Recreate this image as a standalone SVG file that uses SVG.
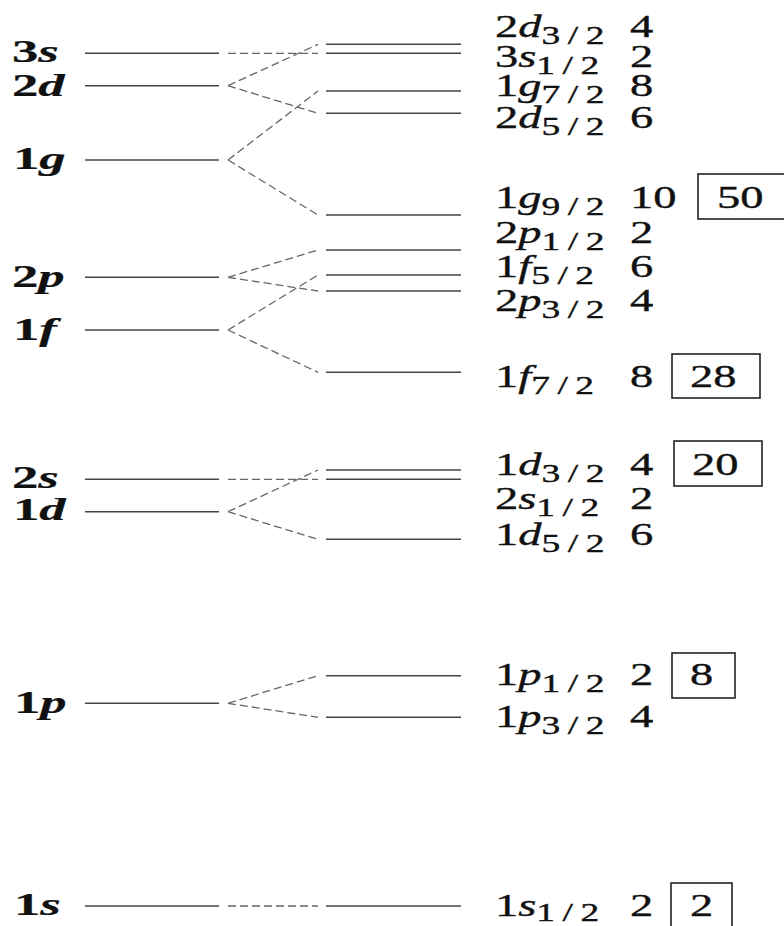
<svg xmlns="http://www.w3.org/2000/svg" width="784" height="926" viewBox="0 0 784 926">
<style>
.lv{stroke:#444;stroke-width:1.4;fill:none}
.cn{stroke:#666;stroke-width:1.3;fill:none;stroke-dasharray:8 4}
.t{font-family:'Liberation Serif','DejaVu Serif',serif;font-size:31px;fill:#111;stroke:#111;stroke-width:0.35}
.b{font-weight:bold;stroke-width:0.2}
.it{font-style:italic}
.sub{font-size:25px;letter-spacing:5px}
.box{fill:none;stroke:#222;stroke-width:1.6}
</style>
<rect width="784" height="926" fill="#fff"/>
<g id="connectors">
<path class="cn" d="M228,53.3L318,53.3"/>
<path class="cn" d="M228,85.7L318,44.3M228,85.7L318,113.3"/>
<path class="cn" d="M228,160L318,91M228,160L318,215"/>
<path class="cn" d="M228,277.3L318,250M228,277.3L318,291"/>
<path class="cn" d="M228,330L318,275M228,330L318,372.3"/>
<path class="cn" d="M228,479.3L318,479.3"/>
<path class="cn" d="M228,511.7L318,470M228,511.7L318,539.3"/>
<path class="cn" d="M228,703.3L318,675.7M228,703.3L318,717.3"/>
<path class="cn" d="M228,906L318,906"/>
</g>
<g class="t">
<g id="left-3s"><line class="lv" x1="85" y1="53.3" x2="219" y2="53.3"/><text class="b" transform="translate(12,62) scale(1.7,1)">3<tspan class="it">s</tspan></text></g>
<g id="left-2d"><line class="lv" x1="85" y1="85.7" x2="219" y2="85.7"/><text class="b" transform="translate(12,96) scale(1.7,1)">2<tspan class="it">d</tspan></text></g>
<g id="left-1g"><line class="lv" x1="85" y1="160" x2="219" y2="160"/><text class="b" transform="translate(13,169) scale(1.7,1)">1<tspan class="it">g</tspan></text></g>
<g id="left-2p"><line class="lv" x1="85" y1="277.3" x2="219" y2="277.3"/><text class="b" transform="translate(12,287) scale(1.7,1)">2<tspan class="it">p</tspan></text></g>
<g id="left-1f"><line class="lv" x1="85" y1="330" x2="219" y2="330"/><text class="b" transform="translate(13,340) scale(1.7,1)">1<tspan class="it">f</tspan></text></g>
<g id="left-2s"><line class="lv" x1="85" y1="479.3" x2="219" y2="479.3"/><text class="b" transform="translate(12,488) scale(1.7,1)">2<tspan class="it">s</tspan></text></g>
<g id="left-1d"><line class="lv" x1="85" y1="511.7" x2="219" y2="511.7"/><text class="b" transform="translate(13,520) scale(1.7,1)">1<tspan class="it">d</tspan></text></g>
<g id="left-1p"><line class="lv" x1="85" y1="703.3" x2="219" y2="703.3"/><text class="b" transform="translate(14,713) scale(1.7,1)">1<tspan class="it">p</tspan></text></g>
<g id="left-1s"><line class="lv" x1="85" y1="906" x2="219" y2="906"/><text class="b" transform="translate(14,915) scale(1.7,1)">1<tspan class="it">s</tspan></text></g>

<g id="r-2d32"><line class="lv" x1="326" y1="44.3" x2="461" y2="44.3"/><text transform="translate(495,37) scale(1.5,1)">2<tspan class="it">d</tspan><tspan class="sub" dy="7">3/2</tspan></text><text transform="translate(630,37) scale(1.5,1)">4</text></g>
<g id="r-3s12"><line class="lv" x1="326" y1="53.3" x2="461" y2="53.3"/><text transform="translate(495,67) scale(1.5,1)">3<tspan class="it">s</tspan><tspan class="sub" dy="7">1/2</tspan></text><text transform="translate(630,67) scale(1.5,1)">2</text></g>
<g id="r-1g72"><line class="lv" x1="326" y1="91" x2="461" y2="91"/><text transform="translate(495,96) scale(1.5,1)">1<tspan class="it">g</tspan><tspan class="sub" dy="7">7/2</tspan></text><text transform="translate(630,96) scale(1.5,1)">8</text></g>
<g id="r-2d52"><line class="lv" x1="326" y1="113.3" x2="461" y2="113.3"/><text transform="translate(495,128) scale(1.5,1)">2<tspan class="it">d</tspan><tspan class="sub" dy="7">5/2</tspan></text><text transform="translate(630,128) scale(1.5,1)">6</text></g>
<g id="r-1g92"><line class="lv" x1="326" y1="215" x2="461" y2="215"/><text transform="translate(495,208) scale(1.5,1)">1<tspan class="it">g</tspan><tspan class="sub" dy="7">9/2</tspan></text><text transform="translate(630,208) scale(1.5,1)">10</text><rect class="box" x="698" y="174" width="100" height="45"/><text transform="translate(717,208) scale(1.5,1)">50</text></g>
<g id="r-2p12"><line class="lv" x1="326" y1="250" x2="461" y2="250"/><text transform="translate(495,243) scale(1.5,1)">2<tspan class="it">p</tspan><tspan class="sub" dy="7">1/2</tspan></text><text transform="translate(630,243) scale(1.5,1)">2</text></g>
<g id="r-1f52"><line class="lv" x1="326" y1="275" x2="461" y2="275"/><text transform="translate(495,277) scale(1.5,1)">1<tspan class="it">f</tspan><tspan class="sub" dy="7">5/2</tspan></text><text transform="translate(630,277) scale(1.5,1)">6</text></g>
<g id="r-2p32"><line class="lv" x1="326" y1="291" x2="461" y2="291"/><text transform="translate(495,311) scale(1.5,1)">2<tspan class="it">p</tspan><tspan class="sub" dy="7">3/2</tspan></text><text transform="translate(630,311) scale(1.5,1)">4</text></g>
<g id="r-1f72"><line class="lv" x1="326" y1="372.3" x2="461" y2="372.3"/><text transform="translate(495,387) scale(1.5,1)">1<tspan class="it">f</tspan><tspan class="sub" dy="7">7/2</tspan></text><text transform="translate(630,387) scale(1.5,1)">8</text><rect class="box" x="672" y="354" width="88" height="44"/><text transform="translate(690,387) scale(1.5,1)">28</text></g>
<g id="r-1d32"><line class="lv" x1="326" y1="470" x2="461" y2="470"/><text transform="translate(495,475) scale(1.5,1)">1<tspan class="it">d</tspan><tspan class="sub" dy="7">3/2</tspan></text><text transform="translate(630,475) scale(1.5,1)">4</text><rect class="box" x="674" y="441" width="88" height="45"/><text transform="translate(692,475) scale(1.5,1)">20</text></g>
<g id="r-2s12"><line class="lv" x1="326" y1="479.3" x2="461" y2="479.3"/><text transform="translate(495,509) scale(1.5,1)">2<tspan class="it">s</tspan><tspan class="sub" dy="7">1/2</tspan></text><text transform="translate(630,509) scale(1.5,1)">2</text></g>
<g id="r-1d52"><line class="lv" x1="326" y1="539.3" x2="461" y2="539.3"/><text transform="translate(495,545) scale(1.5,1)">1<tspan class="it">d</tspan><tspan class="sub" dy="7">5/2</tspan></text><text transform="translate(630,545) scale(1.5,1)">6</text></g>
<g id="r-1p12"><line class="lv" x1="326" y1="675.7" x2="461" y2="675.7"/><text transform="translate(495,685) scale(1.5,1)">1<tspan class="it">p</tspan><tspan class="sub" dy="7">1/2</tspan></text><text transform="translate(630,685) scale(1.5,1)">2</text><rect class="box" x="672" y="653" width="63" height="45"/><text transform="translate(690,685) scale(1.5,1)">8</text></g>
<g id="r-1p32"><line class="lv" x1="326" y1="717.3" x2="461" y2="717.3"/><text transform="translate(495,727) scale(1.5,1)">1<tspan class="it">p</tspan><tspan class="sub" dy="7">3/2</tspan></text><text transform="translate(630,727) scale(1.5,1)">4</text></g>
<g id="r-1s12"><line class="lv" x1="326" y1="906" x2="461" y2="906"/><text transform="translate(495,916) scale(1.5,1)">1<tspan class="it">s</tspan><tspan class="sub" dy="5">1/2</tspan></text><text transform="translate(630,916) scale(1.5,1)">2</text><rect class="box" x="671" y="883" width="61" height="60"/><text transform="translate(690,916) scale(1.5,1)">2</text></g>
</g>
</svg>
